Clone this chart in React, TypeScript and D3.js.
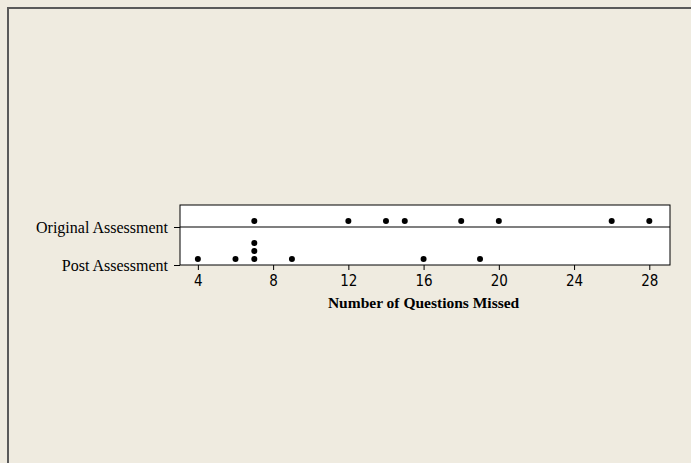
import React, { useEffect, useRef } from "react";
import * as d3 from "d3";

// categories (top to bottom)
const categories = ["Original Assessment", "Post Assessment"];
const originalValues = [7, 12, 14, 15, 18, 20, 26, 28];
const postValues = [4, 6, 7, 7, 7, 9, 16, 19];
const xTicks = [4, 8, 12, 16, 20, 24, 28];
const xTitle = "Number of Questions Missed";

const App = () => {
  const ref = useRef<SVGSVGElement>(null);

  useEffect(() => {
    const width = 691;
    const height = 463;
    const svg = d3.select(ref.current);
    svg.selectAll("*").remove();

    svg
      .append("rect")
      .attr("width", width)
      .attr("height", height)
      .attr("fill", "#efebe0");

    // outer frame (runs off the right and bottom edges)
    svg
      .append("rect")
      .attr("x", 8)
      .attr("y", 8)
      .attr("width", 720)
      .attr("height", 500)
      .attr("fill", "none")
      .attr("stroke", "#5a5a5a")
      .attr("stroke-width", 2);

    const box = { left: 180, right: 670, top: 205, bottom: 265 };

    const x = d3
      .scaleLinear()
      .domain([3.05, 29.1])
      .range([box.left, box.right]);

    // category baselines
    const y = d3
      .scalePoint<string>()
      .domain(categories)
      .range([227, 265]);

    svg
      .append("rect")
      .attr("x", box.left)
      .attr("y", box.top)
      .attr("width", box.right - box.left)
      .attr("height", box.bottom - box.top)
      .attr("fill", "#ffffff")
      .attr("stroke", "#000")
      .attr("stroke-width", 1);

    // divider line at the Original category
    svg
      .append("line")
      .attr("x1", box.left)
      .attr("x2", box.right)
      .attr("y1", y(categories[0])!)
      .attr("y2", y(categories[0])!)
      .attr("stroke", "#000")
      .attr("stroke-width", 1.2);

    // x axis
    const xAxis = svg
      .append("g")
      .attr("transform", `translate(0, ${box.bottom})`)
      .call(
        d3
          .axisBottom(x)
          .tickValues(xTicks)
          .tickSize(5)
          .tickSizeOuter(0)
          .tickPadding(5)
      );
    xAxis.select(".domain").remove();
    xAxis
      .selectAll("text")
      .style("font-family", "DejaVu Sans Condensed, DejaVu Sans, Verdana, sans-serif")
      .style("font-size", "15px")
      .attr("fill", "#000");

    // y axis
    const yAxis = svg
      .append("g")
      .attr("transform", `translate(${box.left}, 0)`)
      .call(d3.axisLeft(y).tickSize(6).tickPadding(6));
    yAxis.select(".domain").remove();
    yAxis
      .selectAll("text")
      .style("font-family", "Liberation Serif, Times New Roman, serif")
      .style("font-size", "16px")
      .attr("fill", "#000");

    svg
      .append("text")
      .attr("x", (x(4) + x(28)) / 2)
      .attr("y", 308)
      .attr("text-anchor", "middle")
      .style("font-family", "Liberation Serif, Times New Roman, serif")
      .style("font-size", "15.5px")
      .style("font-weight", "bold")
      .text(xTitle);

    // dot plot: stack repeated values
    const stackSpacing = 8;
    const drawDots = (values: number[], cat: string) => {
      const counts = new Map<number, number>();
      const pts = values.map((v) => {
        const k = counts.get(v) ?? 0;
        counts.set(v, k + 1);
        return { v, k };
      });
      svg
        .append("g")
        .selectAll("circle")
        .data(pts)
        .enter()
        .append("circle")
        .attr("cx", (d) => x(d.v))
        .attr("cy", (d) => y(cat)! - 6 - d.k * stackSpacing)
        .attr("r", 3)
        .attr("fill", "#000");
    };
    drawDots(originalValues, categories[0]);
    drawDots(postValues, categories[1]);
  }, []);

  return (
    <svg
      ref={ref}
      width={691}
      height={463}
      style={{ position: "absolute", left: 0, top: 0 }}
    />
  );
};

export default App;
